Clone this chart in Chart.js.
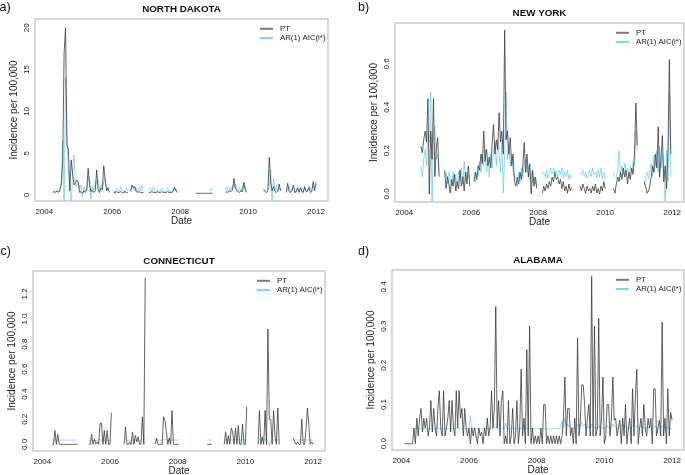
<!DOCTYPE html>
<html>
<head>
<meta charset="utf-8" />
<title>Incidence nowcasts</title>
<script src="https://cdn.jsdelivr.net/npm/chart.js"></script>
<style>
  body, html { margin: 0; padding: 0; background: #ffffff; }
  #wrap { position: relative; width: 685px; height: 475px; overflow: hidden; }
  canvas { position: absolute; }
</style>
</head>
<body>
<div id="wrap">
  <canvas id="pa" width="342" height="237" style="left:0;top:0"></canvas>
  <canvas id="pb" width="343" height="237" style="left:342px;top:0"></canvas>
  <canvas id="pc" width="342" height="238" style="left:0;top:237px"></canvas>
  <canvas id="pd" width="343" height="238" style="left:342px;top:237px"></canvas>
</div>
<script>
// half-month steps starting at 2004.0 (24 values per year, last one = 2012.0)
const startYear = 2004;
const stepsPerYear = 24;
const _ = null;

const xTicks = [2004, 2006, 2008, 2010, 2012];
const seriesNames = ["PT", "AR(1) AIC(i*)"];

// a) NORTH DAKOTA
const ndTicks = [0, 5, 10, 15, 20];
const ndPT = [
  _,_,_,_,_,_, 0.3,0.4,0.3,0.5,0.3,0.6, 1.2,4,17,20,6,5.5, 0.5,4.2,2.5,1.2,1.5,1.8,
  1.5,0.3,0.4,0.2,0.5,0.3, 0.6,3.2,1.2,0.4,0.6,0.3, 0.5,3.0,0.6,0.3,0.8,0.6, 3.5,1.8,0.5,0.9,0.3,_,
  _,0.3,0.3,0.4,0.3,0.3, 0.4,0.3,0.3,0.4,0.3,0.3, _,0.4,1.2,0.8,1.0,0.4, 0.3,0.4,0.3,0.3,0.3,_,
  _,_,0.3,0.3,0.4,0.3, 0.3,0.3,0.4,0.3,0.3,0.4, 0.3,0.3,0.3,0.4,0.3,0.3, 0.3,0.4,0.9,0.5,0.3,_,
  _,_,_,_,_,_, _,_,_,_,_,0.2, 0.2,0.2,0.2,0.2,0.2,0.2, 0.2,0.2,0.2,0.2,0.2,0.2,
  _,_,_,_,_,_, _,_,0.3,0.4,0.3,0.5, 0.4,0.6,2.0,0.8,0.5,0.4, 0.3,0.5,0.4,1.5,0.6,0.3,
  _,_,_,_,_,_, _,_,_,_,_,0.6, 0.4,0.3,0.5,4.5,1.5,0.5, 1.0,0.4,0.3,0.5,1.3,0.5,
  _,_,_,0.3,1.4,0.4, 0.3,0.5,1.2,0.3,0.4,0.8, 0.3,0.9,0.4,0.3,1.0,0.4, 0.5,0.9,0.3,0.4,1.6,0.5,
  1.5
];
const ndAR = [
  _,_,_,_,_,_, 0.3,0.5,0.4,0.4,0.5,0.8, 1.5,6.5,-1.5,14,6.5,3, 1,-1.2,2.8,4.8,1,1.2,
  1.5,0.8,1.2,-0.3,1.0,0.5, 0.8,1.8,2.2,-0.5,1.0,0.6, 1.2,1.5,1.8,0.5,1.2,0.7, 1.5,2.0,0.8,0.6,0.4,_,
  _,0.6,0.2,0.8,0.5,0.4, 1.0,0.5,0.6,0.3,0.8,0.5, _,0.7,0.9,1.1,0.5,0.8, 0.4,0.9,0.5,1.1,0.6,_,
  _,_,0.6,0.8,0.4,1.0, 0.5,0.3,0.7,0.4,0.5,0.8, 0.4,0.3,0.6,0.9,0.4,0.5, 0.3,0.7,0.6,0.8,0.4,_,
  _,_,_,_,_,_, _,_,_,_,_,_, _,_,_,_,_,_, _,_,_,0.4,0.8,0.5,
  _,_,_,_,_,_, _,_,0.5,1.0,0.4,0.9, 0.6,1.1,0.9,1.4,0.7,0.5, 0.9,0.4,1.0,0.8,1.1,0.4,
  _,_,_,_,_,_, _,_,_,_,_,0.8, 0.5,0.6,0.7,1.0,3.0,-1.2, 2.0,0.5,1.2,0.4,0.8,0.6,
  _,_,_,0.5,0.8,1.0, 0.4,0.8,0.9,0.6,0.3,1.0, 0.5,0.7,0.9,0.4,0.8,0.7, 0.4,1.1,0.6,0.8,1.0,0.9,
  1.2
];

// b) NEW YORK
const nyTicks = [0.0, 0.2, 0.4, 0.6];
const nyPT = [
  _,_,_,_,_,_, _,_,_,_,_,_, 0.22,0.19,0.25,0.29,0.24,0.44, 0.0,0.29,0.16,0.44,0.08,0.21,
  0.26,0.08,_,_,_,0.11, 0.025,0.08,0.046,0.004,0.067,0.036, 0.09,0.014,0.057,0.025,0.11,0.036, 0.08,0.014,0.1,0.046,0.13,0.036,
  _,_,0.057,0.1,0.067,0.13, 0.11,0.184,0.14,0.29,0.15,0.205, 0.13,0.17,0.12,0.23,0.32,0.184, 0.25,0.205,0.375,0.24,0.29,0.184,
  0.756,0.25,0.29,0.184,0.26,0.13, 0.184,0.057,0.036,0.078,0.046,0.1, 0.067,0.13,0.237,0.1,0.184,0.078, 0.14,0.0,0.11,0.036,0.078,0.025,
  _,_,_,0.004,0.036,0.014, 0.046,0.025,0.057,0.036,0.078,0.057, 0.1,0.067,0.078,0.046,0.067,0.025, 0.057,0.014,0.036,0.004,0.046,0.014,
  0.03,_,_,_,_,_, 0.036,0.014,0.046,0.025,0.004,0.036, 0.014,0.025,0.004,0.036,0.014,0.046, 0.004,0.025,0.0,0.036,0.014,0.057,
  0.025,_,_,_,_,_, 0.025,0.004,0.046,0.078,0.057,0.1, 0.067,0.12,0.078,0.11,0.046,0.1, 0.067,0.12,0.09,0.184,0.42,0.225,
  _,_,_,_,0.057,0.036, 0.004,0.014,0.036,0.078,0.13,0.1, 0.184,0.12,0.31,0.078,0.16,0.27, 0.057,0.13,0.025,0.205,0.62,0.184,
  _
];
const nyAR = [
  _,_,_,_,_,_, _,_,_,_,_,_, 0.13,0.078,0.16,0.205,0.13,0.29, 0.237,0.47,-0.05,0.29,0.31,0.16,
  0.184,0.1,_,_,_,0.078, 0.1,0.046,0.1,0.067,0.036,0.1, 0.057,0.09,0.036,0.1,0.067,0.12, 0.046,0.15,0.057,0.1,0.078,0.067,
  _,_,0.078,0.057,0.1,0.078, 0.15,0.1,0.184,0.13,0.205,0.1, 0.16,0.078,0.184,0.12,0.205,0.237, 0.13,0.25,0.184,0.1,0.25,0.004,
  0.184,0.47,0.16,0.205,0.13,0.184, 0.1,0.078,0.067,0.036,0.1,0.057, 0.12,0.078,0.14,0.16,0.1,0.13, 0.067,0.1,0.057,0.078,0.046,0.067,
  _,_,_,0.09,0.1,0.08, 0.11,0.075,0.1,0.12,0.09,0.12, 0.1,0.11,0.08,0.11,0.09,0.12, 0.075,0.1,0.08,0.11,0.07,0.09,
  0.07,_,_,_,_,_, 0.1,0.09,0.11,0.08,0.1,0.075, 0.09,0.11,0.08,0.12,0.09,0.1, 0.075,0.11,0.08,0.12,0.07,0.1,
  0.07,_,_,_,_,_, 0.1,0.08,0.075,0.11,0.2,0.08, 0.13,0.09,0.14,0.1,0.12,0.075, 0.13,0.1,0.15,0.13,0.29,0.2,
  _,_,_,_,0.04,0.08, 0.1,0.07,0.11,0.14,0.08,0.18, 0.13,0.2,0.1,0.22,0.12,0.18, 0.08,-0.05,0.2,0.06,0.47,0.08,
  _
];

// c) CONNECTICUT
const ctTicks = [0.0, 0.2, 0.4, 0.6, 0.8, 1.0, 1.2];
const ctPT = [
  _,_,_,_,_,_, _,0,0,0.11,0,0.08, 0,0,0,0,0,0, 0,0,0,0,0,0,
  0,0,_,_,_,_, _,_,_,0,0,0.08, 0,0.04,0,0.02,0,0.17, 0.17,0,0.11,0,0.11,0,
  0,0.25,_,_,_,_, _,_,_,_,0,0.14, 0,0,0.02,0,0.1,0, 0.07,0.02,0.06,0,0,0.22,
  0,1.33,_,_,_,_, _,_,0,0.05,0,0, 0,0,0.22,0.19,0.1,0, 0.05,0,0.27,0,0,0,
  0,0,_,_,_,_, _,_,_,_,_,_, _,_,_,_,_,_, _,_,_,0,0,0,
  0,_,_,_,_,_, _,_,_,0,0.1,0, 0.07,0,0.13,0.1,0,0.13, 0,0.15,0,0,0.16,0,
  0,0.3,_,_,_,_, _,_,_,0,0.27,0, 0.06,0,0.27,0,0.92,0.2, 0.2,0,0.27,0.07,0,0.29,
  0,_,_,_,_,_, _,_,_,_,0.05,0.02, 0,0.02,0,0,0.2,0, 0,0.12,0.29,0.16,0,0.02,
  0
];
const ctAR = [
  _,_,_,_,_,_, _,0.035,0.034,0.036,0.035,0.034, 0.034,0.034,0.034,0.034,0.034,0.034, 0.034,0.034,0.034,0.034,0.034,0.034,
  0.034,0.034,_,_,_,_, _,_,_,0.03,0.028,0.035, 0.03,0.032,0.028,0.03,0.035,0.04, 0.03,0.035,0.03,0.033,0.035,0.03,
  0.03,0.04,_,_,_,_, _,_,_,_,0.03,0.04, 0.028,0.03,0.032,0.03,0.035,0.03, 0.035,0.03,0.03,0.028,0.03,0.04,
  0.035,0.05,_,_,_,_, _,_,0.034,0.036,0.034,0.034, 0.034,0.034,0.038,0.04,0.036,0.034, 0.034,0.034,0.036,0.034,0.034,0.034,
  0.034,0.034,_,_,_,_, _,_,_,_,_,_, _,_,_,_,_,_, _,_,_,0.034,0.034,0.034,
  0.034,_,_,_,_,_, _,_,_,0.034,0.036,0.034, 0.035,0.033,0.036,0.035,0.034,0.036, 0.034,0.037,0.034,0.034,0.036,0.034,
  0.034,0.036,_,_,_,_, _,_,_,0.034,0.036,0.035, 0.034,0.036,0.035,0.038,0.02,-0.01, 0.03,0.035,0.034,0.036,0.034,0.035,
  0.034,_,_,_,_,_, _,_,_,_,0.034,0.035, 0.034,0.034,0.036,0.034,0.035,0.034, 0.036,0.034,0.035,0.034,0.034,0.034,
  0.034
];

// d) ALABAMA
const alTicks = [0.0, 0.1, 0.2, 0.3, 0.4];
const alPT = [
  _,_,0,0,0,0, 0,0,0,0.04,0,0.065, 0.02,0.065,0.09,0.03,0.065,0.04, 0.065,0.02,0.04,0.11,0.03,0.09,
  0.04,0.02,0.09,0.135,0.04,0.02, 0.135,0.02,0.04,0.065,0.11,0.03, 0.11,0.04,0.02,0.135,0.04,0.135, 0.065,0.09,0.02,0.09,0.04,0.02,
  0.04,0,0.04,0.02,0.04,0.02, 0,0.04,0.02,0.03,0,0.04, 0.02,0.065,0.02,0.04,0.135,0.04, 0.09,0.35,0.04,0.11,0.02,0.11,
  0.135,0,0.02,0,0.11,0, 0.02,0.09,0,0.02,0.11,0, 0.04,0.19,0.02,0.065,0,0.24, 0.02,0.3,0,0.04,0,0.02,
  0,0.02,0,0.04,0,0.1, 0.1,0,0.02,0,0.02,0, 0.02,0,0.02,0,0.02,0, 0.02,0.065,0.17,0.02,0.09,0.09,
  0.02,0.04,0,0.065,0,0.27, 0.02,0.06,0.15,0.15,0.1,0.02, 0.065,0.1,0.02,0.427,0.02,0.3, 0.02,0.04,0.32,0.02,0.065,0.17,
  0,0.02,0.1,0.1,0.02,0.065, 0.17,0.06,0.065,0.02,0.04,0.06, 0,0.065,0.02,0.1,0,0.04, 0.065,0,0.14,0.02,0.12,0.19,
  0,0.04,0.065,0.02,0.1,0.04, 0.02,0.065,0.04,0.065,0,0.14, 0.14,0.02,0.04,0.06,0.02,0.31, 0.02,0.065,0,0.14,0.02,0.08,
  0.06
];
const alAR = [
  _,_,_,_,_,_, _,0.038,0.038,0.038,0.038,0.038, 0.038,0.038,0.038,0.039,0.038,0.038, 0.038,0.038,0.039,0.038,0.038,0.038,
  0.038,0.038,0.039,0.038,0.038,0.038, 0.039,0.038,0.038,0.038,0.039,0.038, 0.038,0.038,0.038,0.039,0.038,0.038, 0.039,0.038,0.038,0.038,0.038,0.038,
  0.038,0.07,0.036,0.038,0.04,0.038, 0.038,0.038,0.037,0.038,0.038,0.038, 0.038,0.038,0.039,0.038,0.038,0.038, 0.04,0.045,0.038,0.039,0.038,0.038,
  0.04,0.038,0.052,0.038,0.038,0.037, 0.038,0.038,0.038,0.04,0.038,0.038, 0.038,0.04,0.038,0.045,0.038,0.04, 0.038,0.038,0.038,0.038,0.038,0.038,
  0.038,0.038,0.038,0.038,0.038,0.038, 0.038,0.038,0.038,0.038,0.038,0.038, 0.038,0.038,0.038,0.038,0.038,0.045, 0.058,0.04,0.065,0.045,0.05,0.042,
  0.04,0.042,0.038,0.04,0.038,0.048, 0.05,0.042,0.055,0.045,0.05,0.042, 0.04,0.045,0.038,0.05,0.045,0.04, 0.042,0.038,0.045,0.04,0.038,0.042,
  0.038,0.04,0.045,0.042,0.038,0.04, 0.05,0.045,0.042,0.038,0.04,0.042, 0.045,0.05,0.042,0.045,0.04,0.038, 0.042,0.04,0.045,0.048,0.042,0.046,
  0.04,0.042,0.045,0.04,0.042,0.038, 0.04,0.042,0.04,0.045,0.042,0.04, 0.045,0.04,0.038,0.042,0.04,0.045, 0.042,0.04,0.038,0.042,0.04,0.038,
  0.038
];

function toPoints(vals) {
  return vals.map((v, i) => ({ x: startYear + i / stepsPerYear, y: v }));
}

const FONT = '"Liberation Sans", Arial, Helvetica, sans-serif';
const PT_COLOR = 'rgba(55,55,55,0.78)';
const AR_COLOR = 'rgba(60,190,250,0.55)';

// draws the R-style box, ticks, titles and legend
const decor = {
  id: 'decor',
  afterDraw(chart, args, o) {
    const ctx = chart.ctx;
    const a = chart.chartArea;
    const xs = chart.scales.x, ys = chart.scales.y;
    ctx.save();

    ctx.strokeStyle = '#bcbcbc';
    ctx.lineWidth = 1.2;
    ctx.strokeRect(a.left, a.top, a.right - a.left, a.bottom - a.top);

    ctx.fillStyle = '#222';
    ctx.font = '8px ' + FONT;
    ctx.textAlign = 'center';
    ctx.textBaseline = 'alphabetic';
    xTicks.forEach(t => ctx.fillText(String(t), xs.getPixelForValue(t), a.bottom + 12.5));

    o.yTicks.forEach(t => {
      ctx.save();
      ctx.translate(a.left - 6.5, ys.getPixelForValue(t));
      ctx.rotate(-Math.PI / 2);
      ctx.fillText(o.decimals ? t.toFixed(1) : String(t), 0, 0);
      ctx.restore();
    });

    ctx.font = '10px ' + FONT;
    ctx.fillText('Date', (a.left + a.right) / 2, a.bottom + 23);
    ctx.save();
    ctx.translate(a.left - 18.5, (a.top + a.bottom) / 2);
    ctx.rotate(-Math.PI / 2);
    ctx.fillText('Incidence per 100,000', 0, 0);
    ctx.restore();

    ctx.font = 'bold 9.8px ' + FONT;
    ctx.fillStyle = '#111';
    ctx.fillText(o.title, (a.left + a.right) / 2, a.top - 7.3);

    ctx.font = '12.5px ' + FONT;
    ctx.textAlign = 'left';
    ctx.fillText(o.letter, o.letterX, o.letterY);

    // legend, no frame
    const rows = [a.top + 9.8, a.top + 19];
    const cols = ['#7a7a7a', '#7fd6fb'];
    ctx.font = '7.8px ' + FONT;
    ctx.textBaseline = 'middle';
    ctx.lineWidth = 2;
    seriesNames.forEach((name, k) => {
      ctx.strokeStyle = cols[k];
      ctx.beginPath();
      ctx.moveTo(a.right - 68, rows[k]);
      ctx.lineTo(a.right - 55, rows[k]);
      ctx.stroke();
      ctx.fillStyle = '#222';
      ctx.fillText(name, a.right - 48, rows[k]);
    });
    ctx.restore();
  }
};

const panels = [
  { id: 'pa', letter: 'a)', letterX: -0.5, letterY: 11, title: 'NORTH DAKOTA', pt: ndPT, ar: ndAR,
    yTicks: ndTicks, decimals: false, yMin: -0.72, yMax: 21.05, pad: { left: 35, top: 19, right: 14, bottom: 36 } },
  { id: 'pb', letter: 'b)', letterX: 16, letterY: 11, title: 'NEW YORK', pt: nyPT, ar: nyAR,
    yTicks: nyTicks, decimals: true, yMin: -0.037, yMax: 0.789, pad: { left: 53, top: 23, right: 1, bottom: 35 } },
  { id: 'pc', letter: 'c)', letterX: 0.5, letterY: 17.5, title: 'CONNECTICUT', pt: ctPT, ar: ctAR,
    yTicks: ctTicks, decimals: true, yMin: -0.053, yMax: 1.383, pad: { left: 33, top: 34, right: 17, bottom: 24 } },
  { id: 'pd', letter: 'd)', letterX: 16, letterY: 17.5, title: 'ALABAMA', pt: alPT, ar: alAR,
    yTicks: alTicks, decimals: true, yMin: -0.016, yMax: 0.443, pad: { left: 50, top: 33, right: 1, bottom: 25 } }
];

panels.forEach(p => {
  const ctx = document.getElementById(p.id).getContext('2d');
  new Chart(ctx, {
    type: 'line',
    data: {
      datasets: [
        { label: seriesNames[0], data: toPoints(p.pt), borderColor: PT_COLOR, borderWidth: 1,
          pointRadius: 0, tension: 0, spanGaps: false, fill: false },
        { label: seriesNames[1], data: toPoints(p.ar), borderColor: AR_COLOR, borderWidth: 1,
          pointRadius: 0, tension: 0, spanGaps: false, fill: false }
      ]
    },
    options: {
      responsive: false,
      animation: false,
      events: [],
      layout: { padding: p.pad },
      scales: {
        x: { type: 'linear', min: 2003.726, max: 2012.353, display: false },
        y: { type: 'linear', min: p.yMin, max: p.yMax, display: false }
      },
      plugins: {
        legend: { display: false },
        tooltip: { enabled: false },
        decor: { title: p.title, letter: p.letter, letterX: p.letterX, letterY: p.letterY,
                 yTicks: p.yTicks, decimals: p.decimals }
      }
    },
    plugins: [decor]
  });
});
</script>
</body>
</html>
